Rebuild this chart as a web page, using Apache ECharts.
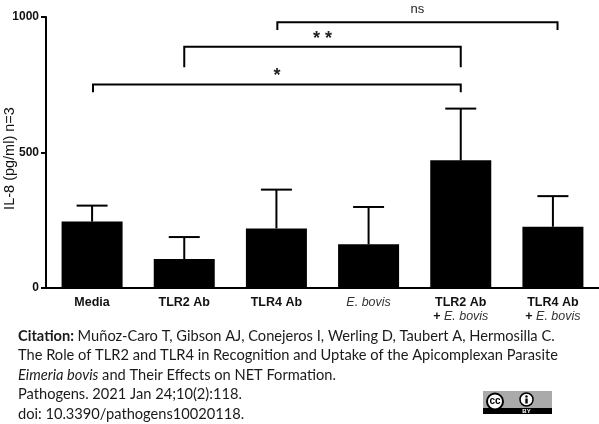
<!DOCTYPE html>
<html>
<head>
<meta charset="utf-8">
<style>html,body{margin:0;padding:0;background:#fff}#chart{width:599px;height:424px}</style>
<script src="https://cdn.jsdelivr.net/npm/echarts@6/dist/echarts.min.js"></script>
</head>
<body>
<div id="chart"></div>
<script>
// IL-8 release per treatment group, mean with upper SD whisker
var categories = ['Media', 'TLR2 Ab', 'TLR4 Ab', 'E. bovis', 'TLR2 Ab\n+ E. bovis', 'TLR4 Ab\n+ E. bovis'];
var means = [245, 107, 220, 161, 471, 226];
var errorTops = [304, 188, 363, 299, 662, 339];
var yTicks = [0, 500, 1000];

// Significance brackets: from bar, to bar, level, foot end, label
var bracketFrom = [0.01, 1, 2.01];
var bracketTo = [4, 4, 5.05];
var bracketLevels = [751, 890, 981];
var bracketFeet = [722, 815, 952];
var bracketLabels = ['*', '**', 'ns'];

var citationLines = [
  [['Citation: ', 'b'], ['Muñoz-Caro T, Gibson AJ, Conejeros I, Werling D, Taubert A, Hermosilla C.', 'r']],
  [['The Role of TLR2 and TLR4 in Recognition and Uptake of the Apicomplexan Parasite', 'r']],
  [['Eimeria bovis', 'i'], [' and Their Effects on NET Formation.', 'r']],
  [['Pathogens. 2021 Jan 24;10(2):118.', 'r']],
  [['doi: 10.3390/pathogens10020118.', 'r']]
];
var citationY = [338, 357, 377, 396, 416];

var chart = echarts.init(document.getElementById('chart'), null, { renderer: 'canvas' });
var ink = '#000';
var sans = '"Liberation Sans"';

function categoryLabel(value) {
  return value.split('\n').map(function (line) {
    if (line.indexOf('+ ') === 0) return '{b|+ }{i|' + line.slice(2) + '}';
    if (line.indexOf('E. bovis') === 0) return '{i|' + line + '}';
    return '{b|' + line + '}';
  }).join('\n');
}

function renderError(params, api) {
  var x = api.coord([api.value(0), 0])[0];
  var low = api.coord([api.value(0), api.value(1)])[1];
  var high = api.coord([api.value(0), api.value(2)])[1];
  var style = { stroke: ink, lineWidth: 2, fill: null };
  return {
    type: 'group',
    children: [
      { type: 'line', shape: { x1: x, y1: low, x2: x, y2: high }, style: style },
      { type: 'line', shape: { x1: x - 15.5, y1: high, x2: x + 15.5, y2: high }, style: style }
    ]
  };
}

// Category scales only resolve whole indices, so fractional bar positions are stepped from the nearest one
function fractionalX(api, position, value) {
  var whole = Math.floor(position);
  return api.coord([whole, value])[0] + (position - whole) * api.size([1, 0])[0];
}

function renderBracket(params, api) {
  var i = params.dataIndex;
  var level = api.coord([0, api.value(2)])[1];
  var foot = api.coord([0, api.value(3)])[1];
  var left = fractionalX(api, bracketFrom[i], 0);
  var right = fractionalX(api, bracketTo[i], 0);
  var text = bracketLabels[i];
  var isStar = text !== 'ns';
  return {
    type: 'group',
    children: [
      {
        type: 'polyline',
        shape: { points: [[left, foot], [left, level], [right, level], [right, foot]] },
        style: { stroke: ink, lineWidth: 2, fill: null }
      },
      {
        type: 'text',
        style: {
          x: (left + right) / 2,
          y: level - (isStar ? 8 : 13),
          text: isStar ? text.split('').join(' ') : text,
          align: 'center',
          verticalAlign: 'middle',
          fontFamily: sans,
          fontSize: isStar ? 18 : 13,
          fontWeight: isStar ? 'bold' : 'normal',
          fill: '#222'
        }
      }
    ]
  };
}

var graphicItems = citationLines.map(function (parts, i) {
  return {
    type: 'text',
    left: 18,
    top: citationY[i] - 9,
    silent: true,
    style: {
      text: parts.map(function (p) { return '{' + p[1] + '|' + p[0] + '}'; }).join(''),
      rich: {
        r: { fontFamily: 'Lato', fontSize: 14.65, fill: '#1a1a1a' },
        b: { fontFamily: 'Lato', fontSize: 14.65, fontWeight: 'bold', fill: '#1a1a1a' },
        i: { fontFamily: 'Lato', fontSize: 14.65, fontStyle: 'italic', fill: '#1a1a1a' }
      }
    }
  };
});

// CC BY licence badge
graphicItems.push({
  type: 'group',
  left: 483,
  top: 391,
  silent: true,
  children: [
    { type: 'rect', shape: { x: 0, y: 0, width: 69, height: 23 }, style: { fill: '#aaaaaa' } },
    { type: 'rect', shape: { x: 0, y: 17, width: 69, height: 6 }, style: { fill: '#000' } },
    { type: 'circle', shape: { cx: 12, cy: 10.5, r: 8 }, style: { fill: '#fff', stroke: '#000', lineWidth: 2 } },
    { type: 'text', style: { x: 12, y: 10.5, text: 'cc', align: 'center', verticalAlign: 'middle', fontFamily: sans, fontWeight: 'bold', fontSize: 10, fill: '#000' } },
    { type: 'circle', shape: { cx: 43.5, cy: 8.5, r: 6.5 }, style: { fill: '#fff', stroke: '#000', lineWidth: 1.5 } },
    { type: 'circle', shape: { cx: 43.5, cy: 5.5, r: 1.2 }, style: { fill: '#000' } },
    { type: 'rect', shape: { x: 42.3, y: 7.5, width: 2.4, height: 5 }, style: { fill: '#000' } },
    { type: 'text', style: { x: 43.5, y: 20.2, text: 'BY', align: 'center', verticalAlign: 'middle', fontFamily: sans, fontWeight: 'bold', fontSize: 6, fill: '#fff' } }
  ]
});

chart.setOption({
  backgroundColor: '#fff',
  animation: false,
  textStyle: { fontFamily: sans },
  grid: { left: 46, right: 0, top: 17, bottom: 136, containLabel: false, outerBoundsMode: 'none' },
  xAxis: {
    type: 'category',
    data: categories,
    axisLine: { lineStyle: { color: ink, width: 2 } },
    axisTick: { alignWithLabel: true, length: 5, lineStyle: { color: ink, width: 2 } },
    axisLabel: {
      margin: 8,
      interval: 0,
      formatter: categoryLabel,
      rich: {
        b: { fontFamily: sans, fontWeight: 'bold', fontSize: 12.5, color: '#111', lineHeight: 14 },
        i: { fontFamily: sans, fontStyle: 'italic', fontSize: 12.5, color: '#333', lineHeight: 14 }
      }
    }
  },
  yAxis: {
    type: 'value',
    min: yTicks[0],
    max: yTicks[yTicks.length - 1],
    interval: yTicks[1] - yTicks[0],
    name: 'IL-8 (pg/ml) n=3',
    nameLocation: 'middle',
    nameGap: 29,
    nameMoveOverlap: false,
    nameTextStyle: { fontFamily: sans, fontSize: 14.5, color: '#111', padding: [0, 12, 0, 0] },
    splitLine: { show: false },
    axisLine: { show: true, lineStyle: { color: ink, width: 2 } },
    axisTick: { show: true, length: 5, lineStyle: { color: ink, width: 2 } },
    axisLabel: { margin: 7, fontFamily: sans, fontWeight: 'bold', fontSize: 12, color: '#111', formatter: function (v) { return String(v); } }
  },
  series: [
    {
      type: 'custom',
      silent: true,
      z: 1,
      renderItem: renderError,
      encode: { x: 0, y: 2 },
      data: means.map(function (m, i) { return [i, m, errorTops[i]]; })
    },
    {
      type: 'bar',
      silent: true,
      z: 2,
      barWidth: 61,
      itemStyle: { color: ink },
      data: means
    },
    {
      type: 'custom',
      silent: true,
      z: 3,
      renderItem: renderBracket,
      encode: { x: 0, y: 2 },
      data: bracketFrom.map(function (f, i) { return [Math.round(f), Math.round(bracketTo[i]), bracketLevels[i], bracketFeet[i]]; })
    }
  ],
  graphic: graphicItems
});
</script>
</body>
</html>
